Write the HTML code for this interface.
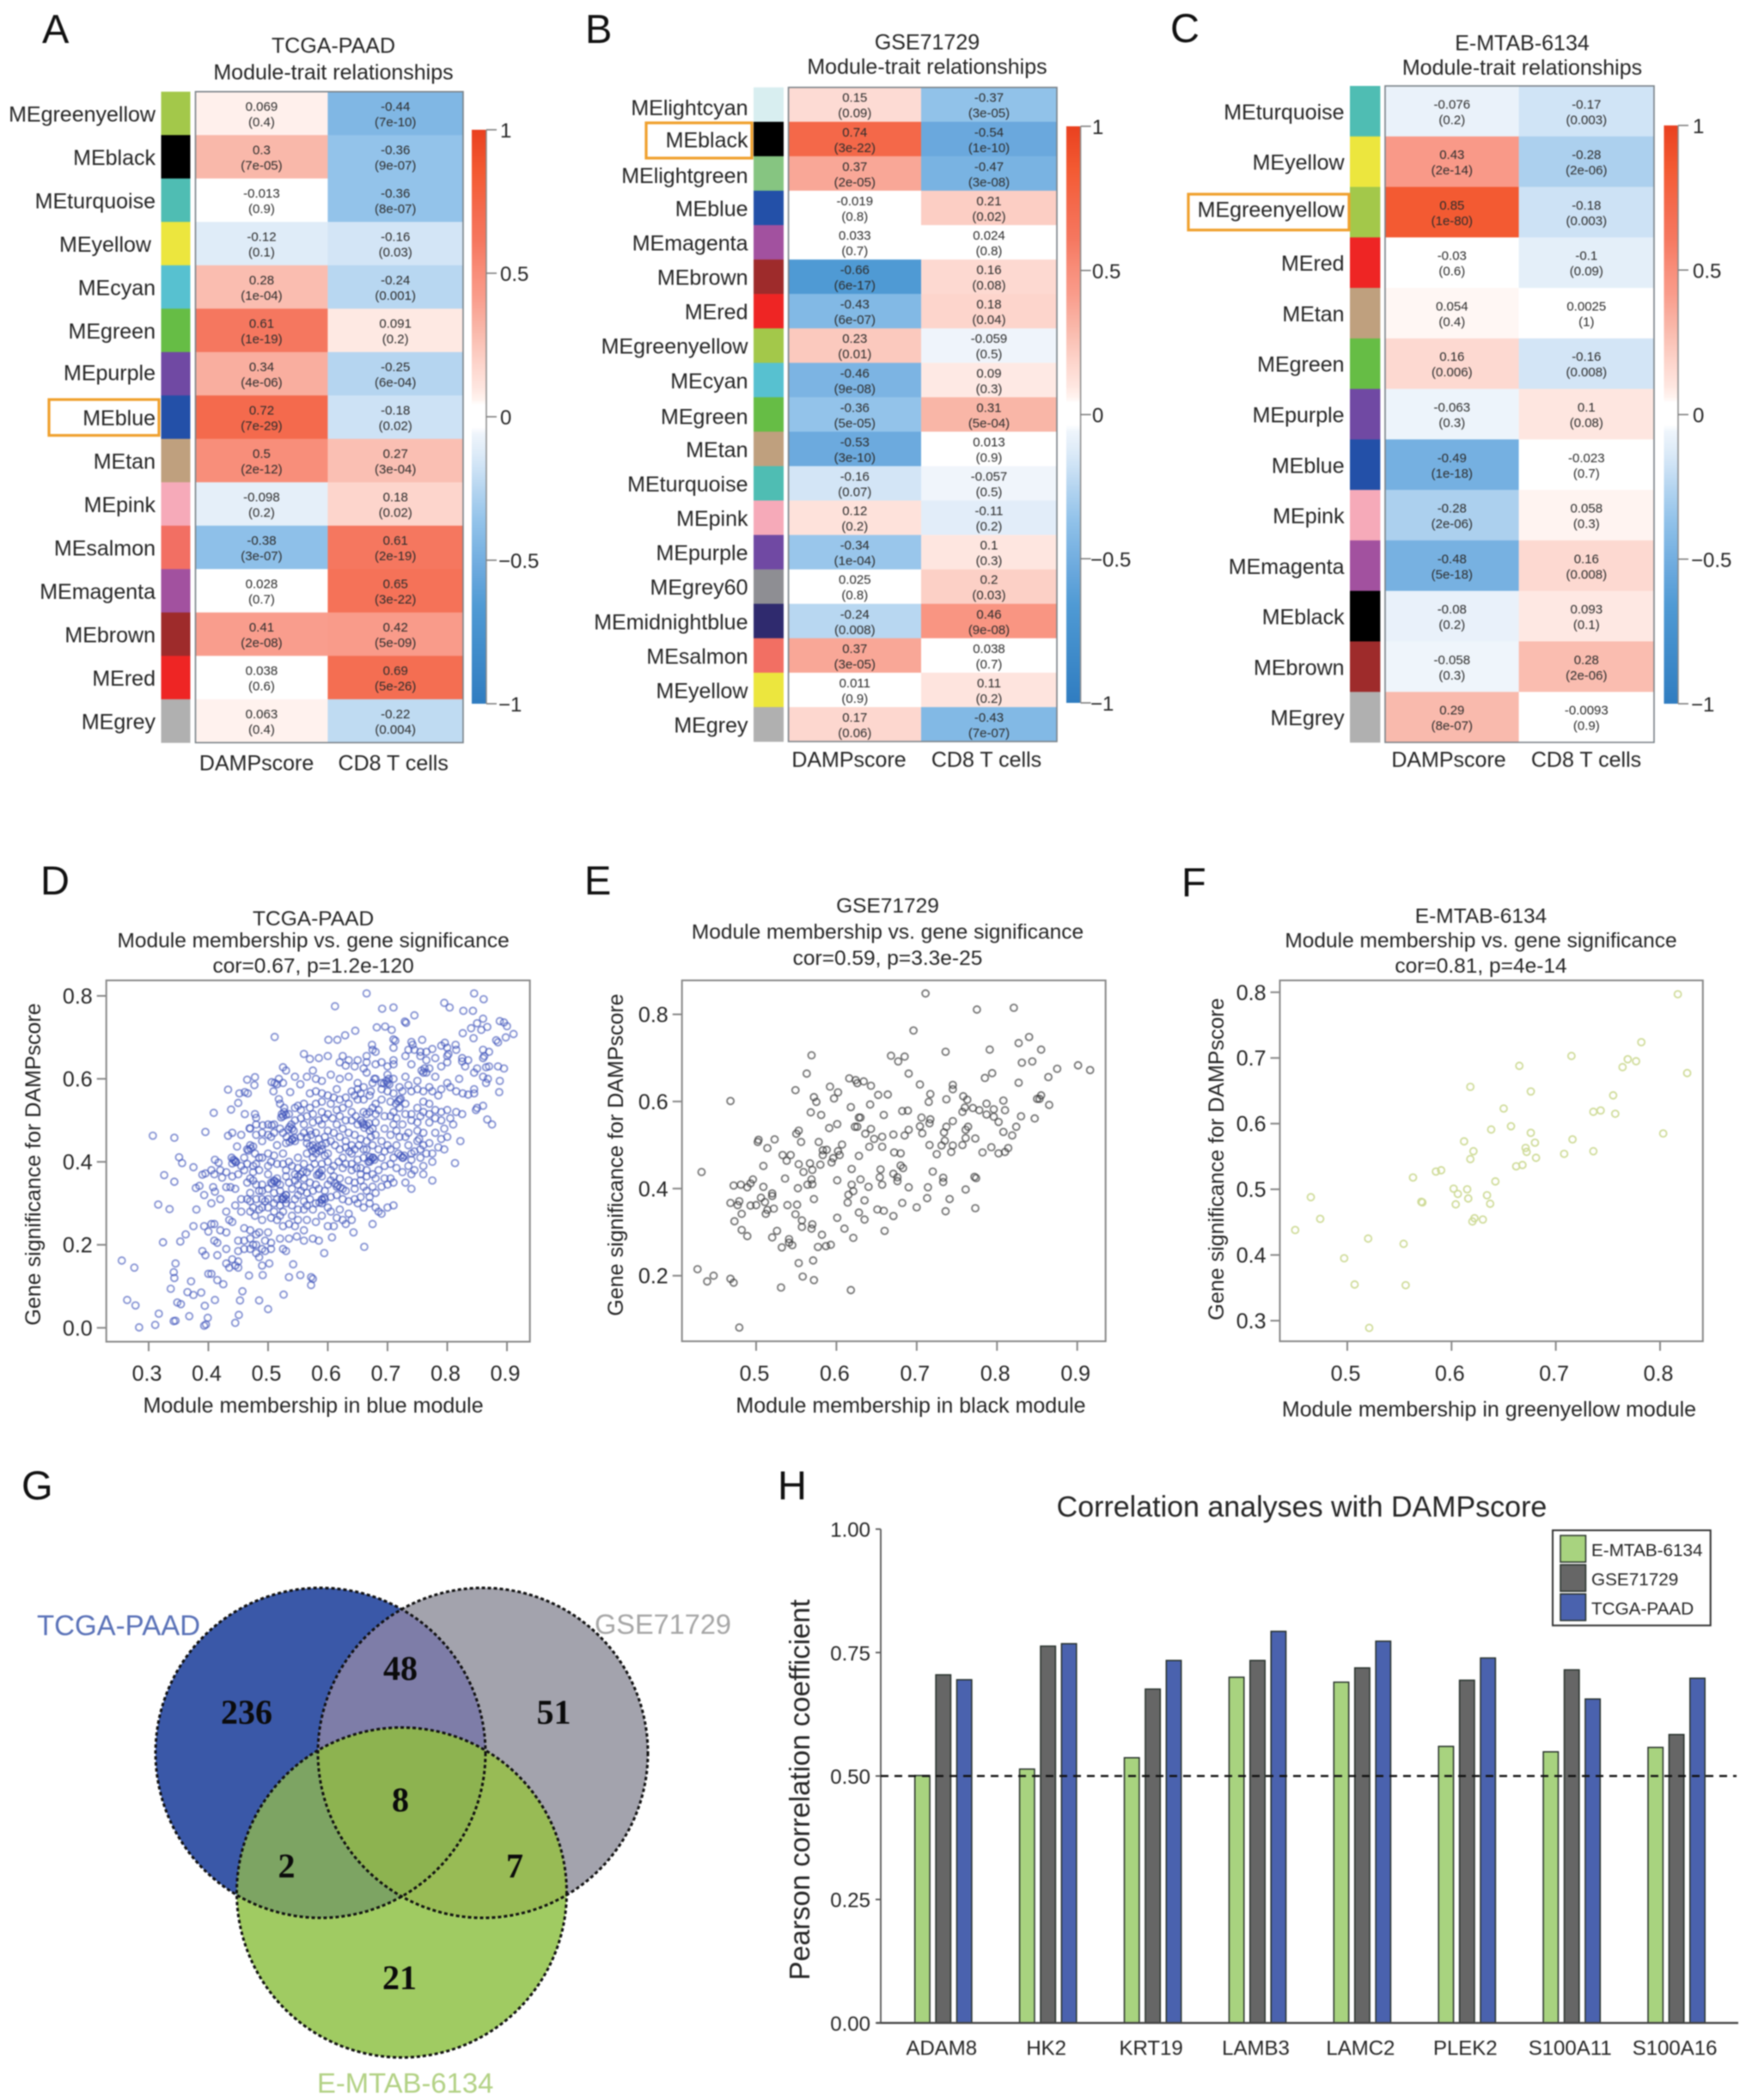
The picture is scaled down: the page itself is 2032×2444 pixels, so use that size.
<!DOCTYPE html>
<html lang="en">
<head>
<meta charset="utf-8">
<title>WGCNA module analysis figure</title>
<style>
html,body{margin:0;padding:0;background:#fff;}
svg{display:block;filter:blur(0.8px);}
text{font-family:"Liberation Sans",Arial,sans-serif;fill:#262626;}
.letter{font-size:47px;fill:#111;}
.t25{font-size:25px;text-anchor:middle;}
.t245{font-size:24.5px;text-anchor:middle;}
.venn-num{font-family:"Liberation Serif",serif;font-weight:bold;font-size:40px;text-anchor:middle;fill:#0b0b0b;}
</style>
</head>
<body>
<svg id="fig" xmlns="http://www.w3.org/2000/svg" width="2032" height="2444" viewBox="0 0 2032 2444">
<rect x="0" y="0" width="2032" height="2444" fill="#ffffff"/>
<defs>
<linearGradient id="cbGrad" x1="0" y1="0" x2="0" y2="1"></linearGradient>
<clipPath id="clipBlue"><circle cx="373" cy="2040" r="192"/></clipPath>
<clipPath id="clipGrey"><circle cx="562" cy="2040" r="192"/></clipPath>
<clipPath id="clipBlueGrey" clip-path="url(#clipBlue)"><circle cx="562" cy="2040" r="192"/></clipPath>
</defs>

<text class="letter" x="49" y="50">A</text>
<text class="letter" x="681" y="50">B</text>
<text class="letter" x="1362" y="49">C</text>
<text class="letter" x="47" y="1041">D</text>
<text class="letter" x="680" y="1041">E</text>
<text class="letter" x="1375" y="1043">F</text>
<text class="letter" x="25" y="1745">G</text>
<text class="letter" x="905" y="1745">H</text>

<g id="heatA">
<text class="t25" x="388" y="61.5">TCGA-PAAD</text>
<text class="t25" x="388" y="92.5">Module-trait relationships</text>
</g>
<g id="heatB">
<text class="t25" x="1079" y="57.5">GSE71729</text>
<text class="t25" x="1079" y="86">Module-trait relationships</text>
</g>
<g id="heatC">
<text class="t25" x="1771.5" y="58.5">E-MTAB-6134</text>
<text class="t25" x="1771.5" y="87">Module-trait relationships</text>
</g>

<g id="scatD">
<text class="t245" x="364.6" y="1077">TCGA-PAAD</text>
<text class="t245" x="364.6" y="1102.5">Module membership vs. gene significance</text>
<text class="t245" x="364.6" y="1132">cor=0.67, p=1.2e-120</text>
<text class="t25" x="364.6" y="1644">Module membership in blue module</text>
<text class="t25" transform="translate(47,1355) rotate(-90)">Gene significance for DAMPscore</text>
</g>
<g id="scatE">
<text class="t245" x="1033" y="1062">GSE71729</text>
<text class="t245" x="1033" y="1092.5">Module membership vs. gene significance</text>
<text class="t245" x="1033" y="1123">cor=0.59, p=3.3e-25</text>
<text class="t25" x="1060" y="1644">Module membership in black module</text>
<text class="t25" transform="translate(725,1344) rotate(-90)">Gene significance for DAMPscore</text>
</g>
<g id="scatF">
<text class="t245" x="1723.5" y="1074">E-MTAB-6134</text>
<text class="t245" x="1723.5" y="1102.5">Module membership vs. gene significance</text>
<text class="t245" x="1723.5" y="1132">cor=0.81, p=4e-14</text>
<text class="t25" x="1733" y="1648.5">Module membership in greenyellow module</text>
<text class="t25" transform="translate(1424,1349) rotate(-90)">Gene significance for DAMPscore</text>
</g>

<g>
<circle cx="373" cy="2040" r="192" fill="#3a58a8"/>
<circle cx="562" cy="2040" r="192" fill="#a3a3ad"/>
<circle cx="562" cy="2040" r="192" fill="#7e7da8" clip-path="url(#clipBlue)"/>
<circle cx="467.5" cy="2202.5" r="192" fill="#a0cb62"/>
<circle cx="467.5" cy="2202.5" r="192" fill="#7da463" clip-path="url(#clipBlue)"/>
<circle cx="467.5" cy="2202.5" r="192" fill="#98bb55" clip-path="url(#clipGrey)"/>
<circle cx="467.5" cy="2202.5" r="192" fill="#8db350" clip-path="url(#clipBlueGrey)"/>
<circle cx="373" cy="2040" r="192" fill="none" stroke="#111" stroke-width="3" stroke-dasharray="4 3"/>
<circle cx="562" cy="2040" r="192" fill="none" stroke="#111" stroke-width="3" stroke-dasharray="4 3"/>
<circle cx="467.5" cy="2202.5" r="192" fill="none" stroke="#111" stroke-width="3" stroke-dasharray="4 3"/>
<text class="venn-num" x="287" y="2006">236</text>
<text class="venn-num" x="466" y="1955">48</text>
<text class="venn-num" x="644.5" y="2006">51</text>
<text class="venn-num" x="466" y="2108">8</text>
<text class="venn-num" x="333.5" y="2185">2</text>
<text class="venn-num" x="599" y="2185">7</text>
<text class="venn-num" x="465" y="2315">21</text>
<text x="43" y="1903" font-size="33" style="fill:#5a72b8">TCGA-PAAD</text>
<text x="692" y="1901.5" font-size="32.5" style="fill:#a6a6a6">GSE71729</text>
<text x="369" y="2435.5" font-size="32.8" style="fill:#b2d184">E-MTAB-6134</text>
</g>

<g id="barH">
<text x="1515" y="1765" font-size="34" text-anchor="middle">Correlation analyses with DAMPscore</text>
<text transform="translate(942,2083) rotate(-90)" font-size="33" text-anchor="middle">Pearson correlation coefficient</text>
</g>
</svg>

<script>
/* ---------- Heatmap A data ---------- */
const aModules = ['greenyellow','black','turquoise','yellow','cyan','green','purple','blue','tan','pink','salmon','magenta','brown','red','grey'];
const aDampValues = ['0.069','0.3','-0.013','-0.12','0.28','0.61','0.34','0.72','0.5','-0.098','-0.38','0.028','0.41','0.038','0.063'];
const aDampP = ['0.4','7e-05','0.9','0.1','1e-04','1e-19','4e-06','7e-29','2e-12','0.2','3e-07','0.7','2e-08','0.6','0.4'];
const aCd8Values = ['-0.44','-0.36','-0.36','-0.16','-0.24','0.091','-0.25','-0.18','0.27','0.18','0.61','0.65','0.42','0.69','-0.22'];
const aCd8P = ['7e-10','9e-07','8e-07','0.03','0.001','0.2','6e-04','0.02','3e-04','0.02','2e-19','3e-22','5e-09','5e-26','0.004'];

/* ---------- Heatmap B data ---------- */
const bModules = ['lightcyan','black','lightgreen','blue','magenta','brown','red','greenyellow','cyan','green','tan','turquoise','pink','purple','grey60','midnightblue','salmon','yellow','grey'];
const bDampValues = ['0.15','0.74','0.37','-0.019','0.033','-0.66','-0.43','0.23','-0.46','-0.36','-0.53','-0.16','0.12','-0.34','0.025','-0.24','0.37','0.011','0.17'];
const bDampP = ['0.09','3e-22','2e-05','0.8','0.7','6e-17','6e-07','0.01','9e-08','5e-05','3e-10','0.07','0.2','1e-04','0.8','0.008','3e-05','0.9','0.06'];
const bCd8Values = ['-0.37','-0.54','-0.47','0.21','0.024','0.16','0.18','-0.059','0.09','0.31','0.013','-0.057','-0.11','0.1','0.2','0.46','0.038','0.11','-0.43'];
const bCd8P = ['3e-05','1e-10','3e-08','0.02','0.8','0.08','0.04','0.5','0.3','5e-04','0.9','0.5','0.2','0.3','0.03','9e-08','0.7','0.2','7e-07'];

/* ---------- Heatmap C data ---------- */
const cModules = ['turquoise','yellow','greenyellow','red','tan','green','purple','blue','pink','magenta','black','brown','grey'];
const cDampValues = ['-0.076','0.43','0.85','-0.03','0.054','0.16','-0.063','-0.49','-0.28','-0.48','-0.08','-0.058','0.29'];
const cDampP = ['0.2','2e-14','1e-80','0.6','0.4','0.006','0.3','1e-18','2e-06','5e-18','0.2','0.3','8e-07'];
const cCd8Values = ['-0.17','-0.28','-0.18','-0.1','0.0025','-0.16','0.1','-0.023','0.058','0.16','0.093','0.28','-0.0093'];
const cCd8P = ['0.003','2e-06','0.003','0.09','1','0.008','0.08','0.7','0.3','0.008','0.1','2e-06','0.9'];

const colorbarTicks = [1, 0.5, 0, -0.5, -1];
const heatTraits = ['DAMPscore', 'CD8 T cells'];

/* ---------- Scatter D data (module membership, gene significance) ---------- */
const pointsD = [
[.255,.162],[.276,.145],[.264,.067],[.278,.054],[.284,.001],[.311,.007],[.317,.034],[.307,.463],[.343,.458],[.395,.472],[.351,.411],[.356,.397],[.326,.368],[.343,.352],[.316,.297],[.335,.286],[.324,.206],[.353,.208],[.345,.155],[.342,.134],[.343,.12],[.337,.094],[.348,.061],[.354,.057],[.342,.016],[.345,.017],[.368,.028],[.365,.086],[.371,.112],[.375,.079],[.388,.085],[.394,.053],[.399,.024],[.393,.005],[.396,.008],[.411,.067],[.445,.012],[.451,.031],[.453,.066],[.457,.088],[.485,.066],[.5,.045],[.526,.08],[.468,.126],[.491,.127],[.502,.155],[.535,.122],[.554,.127],[.542,.153],[.572,.103],[.575,.118],[.572,.122],[.594,.18],[.661,.195],[.643,.23],[.607,.218],
[.665,.806],[.845,.806],[.861,.792],[.795,.783],[.804,.772],[.612,.775],[.691,.769],[.71,.772],[.827,.764],[.843,.764],[.745,.753],[.729,.738],[.731,.735],[.86,.745],[.85,.734],[.888,.739],[.895,.736],[.9,.727],[.911,.708],[.898,.7],[.867,.725],[.84,.722],[.857,.718],[.826,.71],[.844,.698],[.882,.693],[.885,.688],[.511,.701],[.682,.724],[.696,.726],[.707,.718],[.646,.716],[.629,.705],[.616,.694],[.601,.694],[.713,.692],[.71,.695],[.674,.682],[.74,.689],[.758,.694],[.796,.687],[.814,.682],
[.675,.67],[.68,.665],[.71,.675],[.745,.67],[.755,.665],[.765,.665],[.79,.68],[.80,.675],[.815,.67],[.735,.67],[.86,.67],[.87,.665],[.775,.672],[.742,.682],[.802,.66],
[.56,.66],[.57,.648],[.585,.65],[.6,.655],[.625,.655],[.635,.645],[.65,.645],[.665,.64],[.69,.64],[.71,.645],[.73,.655],[.755,.655],[.765,.645],[.78,.65],[.80,.655],[.825,.65],[.835,.645],[.86,.65],[.665,.655],[.862,.655],[.825,.642],
[.62,.64],[.63,.632],[.645,.63],[.66,.625],[.68,.635],[.7,.63],[.71,.635],[.74,.635],[.77,.625],[.79,.63],[.80,.64],[.83,.63],[.85,.625],[.865,.628],[.885,.63],[.895,.625],[.525,.628],[.53,.62],[.575,.62],[.757,.62],[.76,.615],[.762,.625],[.87,.63],
[.465,.598],[.478,.604],[.477,.585],[.511,.59],[.518,.6],[.525,.59],[.545,.605],[.565,.605],[.58,.6],[.59,.595],[.605,.61],[.62,.6],[.635,.605],[.65,.59],[.665,.615],[.68,.6],[.70,.61],[.71,.6],[.73,.605],[.75,.595],[.765,.615],[.78,.605],[.8,.59],[.82,.6],[.845,.615],[.86,.605],[.888,.595],[.506,.592],[.678,.6],[.7,.59],[.703,.587],[.868,.6],[.865,.59],
[.433,.574],[.452,.565],[.461,.568],[.466,.565],[.509,.57],[.515,.587],[.537,.568],[.554,.587],[.57,.565],[.58,.57],[.59,.565],[.6,.56],[.615,.575],[.63,.555],[.645,.56],[.655,.565],[.672,.57],[.69,.575],[.71,.565],[.725,.57],[.74,.57],[.775,.57],[.785,.56],[.815,.57],[.826,.565],[.835,.562],[.845,.565],[.887,.568],[.845,.575],
[.438,.526],[.45,.542],[.409,.518],[.461,.515],[.478,.515],[.48,.506],[.518,.551],[.52,.54],[.527,.53],[.55,.535],[.56,.54],[.555,.525],[.575,.515],[.59,.52],[.6,.515],[.615,.525],[.625,.53],[.635,.54],[.65,.55],[.66,.55],[.67,.56],[.68,.54],[.69,.55],[.705,.545],[.72,.55],[.73,.54],[.75,.53],[.76,.545],[.77,.54],[.78,.525],[.79,.52],[.8,.525],[.815,.52],[.825,.515],[.85,.53],[.86,.535],[.848,.525],[.867,.502],[.875,.49],[.665,.515],[.67,.52],[.68,.515],[.64,.52],[.71,.52],[.72,.53],[.522,.507],[.525,.51],[.53,.513],
[.469,.481],[.48,.49],[.491,.488],[.5,.49],[.506,.488],[.51,.49],[.525,.47],[.54,.48],[.543,.475],[.56,.49],[.57,.475],[.585,.5],[.59,.49],[.6,.475],[.625,.48],[.635,.47],[.65,.49],[.66,.49],[.67,.475],[.675,.48],[.68,.495],[.695,.48],[.71,.49],[.725,.49],[.74,.5],[.75,.495],[.77,.495],[.795,.48],[.81,.49],[.76,.47],[.448,.437],[.433,.463],[.44,.47],[.455,.465],[.47,.48],
[.49,.45],[.505,.46],[.515,.44],[.53,.445],[.54,.455],[.545,.45],[.565,.445],[.575,.44],[.585,.455],[.595,.46],[.62,.46],[.63,.45],[.64,.44],[.645,.465],[.655,.455],[.665,.43],[.675,.44],[.68,.465],[.69,.45],[.7,.44],[.72,.46],[.73,.46],[.75,.45],[.753,.455],[.77,.445],[.785,.435],[.795,.43],[.822,.45],[.478,.42],[.465,.43],[.47,.44],
[.411,.405],[.417,.398],[.44,.396],[.444,.403],[.446,.4],[.46,.41],[.475,.39],[.49,.41],[.5,.39],[.51,.415],[.525,.42],[.535,.4],[.55,.41],[.565,.42],[.575,.41],[.58,.42],[.59,.43],[.595,.415],[.6,.42],[.625,.41],[.64,.42],[.65,.405],[.66,.41],[.67,.4],[.675,.41],[.678,.405],[.69,.41],[.71,.41],[.725,.41],[.728,.415],[.74,.405],[.76,.39],[.775,.4],[.813,.397],
[.375,.387],[.39,.369],[.395,.372],[.423,.362],[.46,.38],[.475,.375],[.485,.38],[.5,.37],[.51,.355],[.515,.35],[.53,.38],[.53,.365],[.545,.37],[.56,.36],[.565,.375],[.585,.37],[.59,.365],[.605,.38],[.625,.385],[.64,.38],[.655,.385],[.665,.38],[.68,.36],[.695,.36],[.705,.36],[.71,.35],[.73,.35],[.74,.37],[.745,.38],[.76,.37],[.775,.355],[.74,.335],[.55,.345],
[.379,.337],[.385,.342],[.393,.32],[.408,.339],[.411,.328],[.43,.339],[.437,.339],[.445,.335],[.465,.35],[.475,.355],[.49,.345],[.505,.35],[.52,.345],[.54,.335],[.56,.34],[.57,.35],[.58,.345],[.595,.33],[.615,.34],[.625,.335],[.63,.33],[.645,.335],[.66,.34],[.675,.34],[.68,.325],[.405,.3],[.42,.31],[.455,.31],[.47,.325],[.485,.33],[.53,.32],[.55,.32],[.595,.31],[.57,.31],
[.38,.285],[.393,.245],[.405,.25],[.41,.25],[.4,.232],[.375,.245],[.362,.225],[.42,.235],[.43,.23],[.44,.255],[.435,.26],[.43,.28],[.445,.295],[.455,.28],[.465,.31],[.47,.305],[.475,.29],[.46,.24],[.47,.235],[.478,.27],[.49,.31],[.495,.305],[.5,.29],[.505,.265],[.515,.26],[.52,.27],[.525,.245],[.535,.25],[.49,.26],[.5,.23],[.485,.23],[.48,.225],[.47,.215],[.45,.21],[.46,.21],[.48,.2],[.495,.21],[.505,.205],[.52,.215],[.535,.215],[.548,.22],[.56,.21],[.575,.215],[.585,.21],[.545,.245],[.56,.235],[.53,.3],[.53,.31],[.525,.31],[.55,.285],[.56,.285],[.575,.285],[.59,.3],[.6,.29],[.59,.31],[.6,.245],[.61,.245],[.615,.265],[.625,.26],[.63,.25],[.64,.26],[.635,.275],[.65,.3],[.66,.29],[.67,.3],[.68,.29],[.7,.29],[.71,.295],[.685,.28],[.69,.275],[.675,.25],
[.39,.185],[.395,.175],[.41,.21],[.415,.205],[.43,.19],[.415,.175],[.43,.155],[.435,.145],[.44,.165],[.445,.15],[.45,.145],[.45,.16],[.475,.2],[.47,.19],[.48,.18],[.485,.17],[.49,.19],[.495,.185],[.505,.19],[.525,.19],[.53,.185],[.45,.185],[.46,.19],[.4,.13],[.405,.13],[.415,.115],[.425,.105],[.49,.15],
[.536,.484],[.534,.478],[.539,.49],[.54,.453],[.536,.448],[.544,.458],[.531,.46],[.578,.432],[.574,.427],[.583,.436],[.57,.438],[.586,.426],[.442,.405],[.439,.41],[.446,.399],[.526,.315],[.523,.31],[.53,.32],[.672,.405],[.668,.4],[.676,.41],[.67,.412],[.665,.488],[.661,.482],[.669,.493],[.658,.494],[.722,.415],[.718,.42],[.726,.41],[.554,.37],[.55,.365],[.558,.376],[.586,.374],[.582,.368],[.59,.38],[.617,.343],[.612,.348],[.621,.338],[.59,.308],[.586,.302],[.594,.314],[.511,.353],[.507,.347],[.515,.36],[.471,.432],[.467,.427],[.475,.437],[.523,.515],[.527,.52],[.698,.595],[.694,.589],[.702,.6],[.718,.546],[.714,.54],[.722,.552],
[.555,.46],[.56,.47],[.565,.458],[.572,.465],[.58,.47],[.59,.44],[.597,.445],[.605,.45],[.612,.44],[.62,.43],[.63,.435],[.636,.425],[.645,.43],[.652,.44],[.66,.43],[.665,.45],[.672,.46],[.685,.43],[.695,.425],[.705,.43],[.715,.44],[.705,.465],[.715,.475],[.735,.47],[.735,.44],[.745,.425],[.755,.43],[.765,.42],[.61,.47],[.615,.49],[.608,.505],[.62,.51],[.63,.5],[.64,.5],[.647,.51],[.655,.5],[.66,.52],[.675,.53],[.685,.525],[.695,.51],[.705,.51],[.715,.505],[.73,.515],[.74,.515],[.755,.51],[.76,.52],[.77,.515],[.78,.505],[.79,.5],[.805,.505],
[.5,.42],[.505,.4],[.515,.395],[.525,.395],[.54,.39],[.55,.385],[.56,.395],[.57,.385],[.578,.395],[.59,.395],[.6,.4],[.61,.39],[.618,.4],[.63,.395],[.64,.395],[.648,.385],[.655,.37],[.665,.365],[.675,.37],[.685,.38],[.695,.39],[.705,.395],[.715,.385],[.725,.375],[.735,.39],[.48,.395],[.485,.41],[.465,.395],[.455,.39],[.45,.37],[.44,.365],[.43,.375],[.42,.38],[.41,.37],[.405,.38],
[.47,.36],[.48,.345],[.49,.33],[.5,.335],[.51,.325],[.52,.33],[.535,.35],[.545,.355],[.555,.33],[.565,.325],[.575,.33],[.585,.335],[.6,.345],[.605,.355],[.61,.365],[.62,.36],[.635,.355],[.645,.35],[.655,.355],[.665,.33],[.69,.34],[.7,.345],[.5,.31],[.51,.3],[.515,.31],[.52,.295],[.54,.295],[.545,.31],[.56,.305],[.565,.295],[.58,.3],[.605,.315],[.615,.32],[.625,.31],[.635,.305],[.645,.31],[.655,.315],[.67,.315],[.48,.31],[.47,.28],[.485,.285],[.49,.29],[.51,.28],[.525,.28],[.54,.27],[.55,.26],[.565,.26],[.58,.255],[.59,.27],[.605,.28],[.62,.285],
[.545,.5],[.555,.505],[.565,.51],[.575,.495],[.595,.505],[.535,.515],[.545,.53],[.57,.53],[.58,.54],[.59,.545],[.605,.54],[.61,.555],[.62,.55],[.64,.57],[.65,.575],[.66,.58],[.675,.59],[.69,.59],[.7,.57],[.72,.58],[.735,.585],[.75,.575],[.76,.57],[.77,.58],[.79,.575],[.805,.58],[.52,.48],[.51,.47],[.5,.465],[.49,.47],[.48,.465],[.75,.475],[.78,.47],[.8,.46],[.79,.455],[.76,.44],[.775,.42],[.755,.41],[.74,.42]
];
const dXTicks = [0.3,0.4,0.5,0.6,0.7,0.8,0.9];
const dYTicks = ['0.0','0.2','0.4','0.6','0.8'];

/* ---------- Scatter E data ---------- */
const pointsE = [
[.711,.848],[.775,.811],[.821,.815],[.696,.763],[.840,.748],[.827,.734],[.855,.719],[.791,.719],[.736,.714],[.569,.706],[.668,.705],[.685,.703],[.677,.692],[.844,.692],[.831,.689],[.901,.683],[.916,.672],[.875,.675],[.864,.656],[.563,.664],[.690,.664],[.794,.665],[.785,.654],[.616,.653],[.624,.649],[.626,.642],[.634,.646],[.643,.636],[.827,.643],[.704,.639],[.745,.638],[.745,.628],[.549,.626],[.592,.634],[.602,.621],[.597,.607],[.572,.610],[.575,.599],[.652,.615],[.664,.616],[.717,.617],[.715,.599],[.737,.605],[.758,.612],[.763,.604],[.855,.614],[.850,.606],[.853,.606],[.642,.593],[.468,.601],[.787,.595],[.796,.582],[.808,.602],[.865,.592],[.618,.587],[.568,.575],[.581,.569],[.659,.569],[.682,.578],[.689,.579],[.757,.576],[.760,.586],[.770,.585],[.778,.580],[.787,.570],[.796,.565],[.810,.580],[.830,.566],[.847,.561],[.628,.563],[.630,.563],[.706,.563],[.717,.559],[.716,.550],[.745,.555],[.802,.553],[.601,.548],[.623,.542],[.626,.542],[.704,.543],[.591,.539],[.737,.542],[.764,.542],[.643,.537],[.690,.535],[.824,.542],[.553,.533],[.707,.527],[.734,.529],[.761,.535],[.808,.530],[.819,.522],[.550,.526],[.636,.526],[.671,.524],[.685,.522],[.647,.514],[.657,.519],[.523,.513],[.502,.507],[.503,.512],[.556,.507],[.578,.507],[.773,.515],[.735,.510],[.761,.516],[.607,.501],[.716,.500],[.731,.499],[.745,.499],[.757,.500],[.641,.496],[.657,.496],[.514,.493],[.793,.495],[.814,.493],[.782,.483],[.802,.481],[.810,.484],[.725,.479],[.743,.484],[.583,.488],[.588,.489],[.602,.486],[.672,.483],[.680,.481],[.533,.477],[.543,.477],[.583,.477],[.604,.477],[.628,.475],[.596,.470],[.538,.464],[.594,.460],[.553,.456],[.567,.458],[.580,.455],[.680,.453],[.509,.452],[.619,.445],[.655,.444],[.683,.447],[.570,.443],[.559,.438],[.720,.439],[.432,.438],[.671,.434],[.654,.426],[.772,.427],[.774,.424],[.676,.426],[.733,.425],[.536,.423],[.569,.421],[.496,.421],[.630,.421],[.601,.419],[.676,.417],[.733,.415],[.493,.412],[.481,.409],[.472,.407],[.489,.403],[.509,.404],[.564,.409],[.570,.410],[.619,.409],[.657,.409],[.640,.404],[.690,.403],[.714,.403],[.552,.401],[.761,.398],[.520,.389],[.621,.394],[.615,.386],[.520,.383],[.506,.379],[.572,.376],[.713,.378],[.741,.376],[.635,.373],[.479,.371],[.468,.367],[.511,.369],[.614,.368],[.682,.367],[.493,.361],[.500,.362],[.477,.362],[.539,.362],[.551,.363],[.700,.357],[.773,.355],[.651,.352],[.522,.354],[.514,.351],[.659,.349],[.736,.348],[.512,.342],[.482,.342],[.549,.341],[.628,.345],[.671,.337],[.601,.333],[.635,.329],[.473,.325],[.557,.327],[.570,.318],[.557,.312],[.569,.308],[.610,.308],[.482,.305],[.526,.303],[.660,.303],[.582,.294],[.489,.291],[.520,.288],[.621,.287],[.541,.284],[.541,.276],[.545,.270],[.532,.265],[.577,.266],[.587,.268],[.593,.271],[.571,.235],[.553,.229],[.427,.215],[.447,.200],[.468,.193],[.439,.187],[.472,.184],[.558,.198],[.572,.190],[.531,.173],[.618,.167],[.479,.081]
];
const eXTicks = [0.5,0.6,0.7,0.8,0.9];
const eYTicks = [0.2,0.4,0.6,0.8];

/* ---------- Scatter F data ---------- */
const pointsF = [
[.817,.797],[.782,.724],[.715,.703],[.769,.698],[.777,.695],[.764,.686],[.665,.688],[.826,.677],[.618,.656],[.676,.649],[.755,.643],[.650,.623],[.736,.618],[.743,.620],[.757,.615],[.657,.596],[.638,.591],[.676,.586],[.803,.585],[.612,.573],[.716,.576],[.680,.571],[.621,.558],[.671,.563],[.672,.557],[.736,.558],[.708,.554],[.681,.548],[.618,.546],[.662,.535],[.668,.537],[.563,.518],[.585,.527],[.590,.529],[.642,.512],[.602,.501],[.615,.500],[.606,.493],[.634,.491],[.616,.486],[.465,.488],[.571,.481],[.572,.480],[.604,.477],[.637,.478],[.474,.455],[.620,.451],[.622,.456],[.630,.454],[.450,.438],[.520,.425],[.554,.417],[.497,.395],[.507,.355],[.556,.354],[.521,.289]
];
const fXTicks = [0.5,0.6,0.7,0.8];
const fYTicks = [0.3,0.4,0.5,0.6,0.7,0.8];

/* ---------- Bar chart H data ---------- */
const barGenes = ['ADAM8','HK2','KRT19','LAMB3','LAMC2','PLEK2','S100A11','S100A16'];
const barSeriesNames = ['E-MTAB-6134','GSE71729','TCGA-PAAD'];
const emtabValues = [0.501,0.514,0.537,0.700,0.690,0.560,0.549,0.558];
const gseValues = [0.705,0.763,0.676,0.734,0.719,0.694,0.715,0.584];
const tcgaValues = [0.695,0.768,0.734,0.793,0.773,0.739,0.656,0.698];
const barYTicks = ['0.00','0.25','0.50','0.75','1.00'];
const barThreshold = [0.5];

/* ---------- Style lookups ---------- */
const moduleColors = {greenyellow:'#a3c84a',black:'#000000',turquoise:'#4fbdb3',yellow:'#ece63e',cyan:'#57c1d0',green:'#66bd45',purple:'#7049a3',blue:'#2350a8',tan:'#bfa07e',pink:'#f6aab9',salmon:'#f26f63',magenta:'#a2519f',brown:'#9e2b2b',red:'#ee2524',grey:'#b0b0b0',lightcyan:'#d8eef0',lightgreen:'#86c581',grey60:'#8e8e93',midnightblue:'#2f2a6e'};
const colorStops = [[-1,'#2f7cc0'],[-0.66,'#4f9ad4'],[-0.54,'#6aa8dd'],[-0.44,'#80b7e4'],[-0.36,'#93c3ea'],[-0.25,'#b5d5f0'],[-0.18,'#cde2f5'],[-0.12,'#dfecf8'],[-0.06,'#eef4fb'],[-0.035,'#ffffff'],[0.04,'#ffffff'],[0.06,'#fff3ef'],[0.1,'#fee6e0'],[0.18,'#fdd5cc'],[0.3,'#f9b8aa'],[0.42,'#f99b8a'],[0.5,'#f88e7a'],[0.61,'#f5775f'],[0.72,'#f46a4d'],[0.85,'#f35a32'],[1,'#e9401f']];

const NS = 'http://www.w3.org/2000/svg';
function mk(tag, attrs, parent, content) {
  const el = document.createElementNS(NS, tag);
  for (const k in attrs) el.setAttribute(k, attrs[k]);
  if (content !== undefined) el.textContent = content;
  parent.appendChild(el);
  return el;
}
function hexToRgb(h) {
  return [parseInt(h.slice(1,3),16), parseInt(h.slice(3,5),16), parseInt(h.slice(5,7),16)];
}
function heatColor(v) {
  if (v <= colorStops[0][0]) return colorStops[0][1];
  for (let i = 1; i < colorStops.length; i++) {
    if (v <= colorStops[i][0]) {
      const a = colorStops[i-1], b = colorStops[i];
      const t = (v - a[0]) / (b[0] - a[0]);
      const ca = hexToRgb(a[1]), cb = hexToRgb(b[1]);
      return 'rgb(' + ca.map(function (c, j) { return Math.round(c + (cb[j] - c) * t); }).join(',') + ')';
    }
  }
  return colorStops[colorStops.length - 1][1];
}
function linear(d0, r0, d1, r1) {
  return function (v) { return r0 + (v - d0) * (r1 - r0) / (d1 - d0); };
}

/* colourbar gradient */
const grad = document.getElementById('cbGrad');
for (let i = colorStops.length - 1; i >= 0; i--) {
  mk('stop', {offset: ((1 - colorStops[i][0]) / 2 * 100) + '%', 'stop-color': colorStops[i][1]}, grad);
}

function drawHeatmap(g, prefix, modules, dampV, dampP, cd8V, cd8P, L) {
  const rows = modules.length;
  const rowY = linear(0, L.y0, rows, L.y1);
  const colX = [L.x0, L.xm, L.x1];
  const traitVals = [dampV, cd8V];
  const traitPs = [dampP, cd8P];
  const cbY = linear(1, L.cbTop, -1, L.cbBottom);
  modules.forEach(function (m, r) {
    const y = rowY(r), h = rowY(r + 1) - y, cy = y + h / 2;
    const strip = mk('rect', {x: L.sx0, y: y, width: L.sx1 - L.sx0, height: h + 0.3, fill: moduleColors[m]}, g);
    
    
    const nudge = L.labelNudge[m] || [0, 0];
    const lab = mk('text', {x: L.labelRight + nudge[0], y: cy + 9.5 + nudge[1], 'font-size': 25, 'text-anchor': 'end'}, g, 'ME' + m);
    
    
    for (let c = 0; c < 2; c++) {
      const cell = mk('rect', {x: colX[c], y: y, width: colX[c+1] - colX[c] + 0.3, height: h + 0.3, fill: heatColor(parseFloat(traitVals[c][r]))}, g);
      
      
      const cx = (colX[c] + colX[c+1]) / 2;
      const t1 = mk('text', {x: cx, y: cy - 3, 'font-size': 15, 'text-anchor': 'middle', style: 'fill:#2c2c2c'}, g, traitVals[c][r]);
      
      
      const t2 = mk('text', {x: cx, y: cy + 15, 'font-size': 15, 'text-anchor': 'middle', style: 'fill:#2c2c2c'}, g, '(' + traitPs[c][r] + ')');
      
      
    }
  });
  const box = mk('rect', {x: L.x0, y: L.y0, width: L.x1 - L.x0, height: L.y1 - L.y0, fill: 'none', stroke: '#7a8288', 'stroke-width': 1.6}, g);
  
  
  const cb = mk('rect', {x: L.cbX0, y: L.cbTop, width: L.cbX1 - L.cbX0, height: L.cbBottom - L.cbTop, fill: 'url(#cbGrad)'}, g);
  
  
  const cbl = mk('line', {x1: L.cbX1, x2: L.cbX1, y1: L.cbTop, y2: L.cbBottom, stroke: '#8a8a8a', 'stroke-width': 1.5}, g);
  
  
  colorbarTicks.forEach(function (t) {
    const tick = mk('line', {x1: L.cbX1, x2: L.cbX1 + 12, y1: cbY(t), y2: cbY(t), stroke: '#777', 'stroke-width': 1.5}, g);
    
    
    const tl = mk('text', {x: L.cbLabelX + (t < 0 ? -2 : 0), y: cbY(t) + 9, 'font-size': 24}, g, String(t).replace('-', '\u2212'));
    
    
  });
  heatTraits.forEach(function (name, i) {
    const tt = mk('text', {x: L.traitX[i], y: L.traitY, 'font-size': 25, 'text-anchor': 'middle'}, g, name);
    
    
  });
  const hl = mk('rect', {x: L.hl[0], y: L.hl[1], width: L.hl[2] - L.hl[0], height: L.hl[3] - L.hl[1], fill: 'none', stroke: '#f0a02e', 'stroke-width': 3.2}, g);
  
  
}

drawHeatmap(document.getElementById('heatA'), 'heatmap-a', aModules, aDampValues, aDampP, aCd8Values, aCd8P,
  {x0:227.5,xm:381.4,x1:539,y0:106.7,y1:864.3,sx0:187.5,sx1:221.5,labelRight:181,labelNudge:{yellow:[-5,0],purple:[0,-2]},cbX0:549,cbX1:566,cbTop:151,cbBottom:819,cbLabelX:582,traitX:[298.6,457.7],traitY:896.5,hl:[57,465,185,506.7]});
drawHeatmap(document.getElementById('heatB'), 'heatmap-b', bModules, bDampValues, bDampP, bCd8Values, bCd8P,
  {x0:917.6,xm:1072,x1:1230,y0:101.7,y1:863,sx0:877,sx1:912,labelRight:870.5,labelNudge:{lightcyan:[0,3],lightgreen:[0,1.5],green:[0,1.5],grey:[0,0]},cbX0:1241,cbX1:1257.6,cbTop:147,cbBottom:818,cbLabelX:1271,traitX:[988,1148],traitY:892.5,hl:[752,143,875,184]});
drawHeatmap(document.getElementById('heatC'), 'heatmap-c', cModules, cDampValues, cDampP, cCd8Values, cCd8P,
  {x0:1612,xm:1767.6,x1:1925,y0:100,y1:864,sx0:1571,sx1:1606.4,labelRight:1564.6,labelNudge:{greenyellow:[0,-4]},cbX0:1936.5,cbX1:1953,cbTop:146,cbBottom:819,cbLabelX:1970,traitX:[1686,1846],traitY:892.5,hl:[1383,226,1570,267.7]});

function drawScatter(g, prefix, points, xTicks, yTicks, L) {
  const sx = linear(L.xd[0], L.xr[0], L.xd[1], L.xr[1]);
  const sy = linear(L.yd[0], L.yr[0], L.yd[1], L.yr[1]);
  const frame = mk('rect', {x: L.left, y: L.top, width: L.right - L.left, height: L.bottom - L.top, fill: 'none', stroke: '#888', 'stroke-width': 2}, g);
  
  
  xTicks.forEach(function (t) {
    const v = parseFloat(t);
    const tick = mk('line', {x1: sx(v), x2: sx(v), y1: L.bottom, y2: L.bottom + 11, stroke: '#888', 'stroke-width': 2}, g);
    
    
    const lab = mk('text', {x: sx(v) - 2, y: 1607, 'font-size': 25, 'text-anchor': 'middle'}, g, String(t));
    
    
  });
  yTicks.forEach(function (t) {
    const v = parseFloat(t);
    const tick = mk('line', {x1: L.left - 11, x2: L.left, y1: sy(v), y2: sy(v), stroke: '#888', 'stroke-width': 2}, g);
    
    
    const lab = mk('text', {x: L.left - 16, y: sy(v) + 9, 'font-size': 25, 'text-anchor': 'end'}, g, String(t));
    
    
  });
  points.forEach(function (p) {
    const c = mk('circle', {cx: sx(p[0]), cy: sy(p[1]), r: 4, fill: 'none', stroke: L.color, 'stroke-width': 1.8}, g);
    
    
  });
}

drawScatter(document.getElementById('scatD'), 'scatter-d', pointsD, dXTicks, dYTicks,
  {left:123.7,right:616.7,top:1141,bottom:1561.5,xd:[0.3,0.9],xr:[173,590],yd:[0,0.8],yr:[1545.3,1159],color:'rgba(62,82,186,0.62)'});
drawScatter(document.getElementById('scatE'), 'scatter-e', pointsE, eXTicks, eYTicks,
  {left:793.7,right:1286.7,top:1141,bottom:1561,xd:[0.5,0.9],xr:[880,1253.7],yd:[0.2,0.8],yr:[1484.7,1180.5],color:'rgba(50,50,50,0.66)'});
drawScatter(document.getElementById('scatF'), 'scatter-f', pointsF, fXTicks, fYTicks,
  {left:1489.5,right:1981.8,top:1141,bottom:1561,xd:[0.5,0.8],xr:[1568,1932],yd:[0.3,0.8],yr:[1537,1154.8],color:'rgba(205,218,150,0.95)'});

/* bar chart */
(function () {
  const g = document.getElementById('barH');
  const sy = linear(0, 2354.3, 1, 1779.6);
  const barW = 17.4, step = 24.4, groupStep = 121.9, firstX = 1064.7;
  const series = [emtabValues, gseValues, tcgaValues];
  const fills = ['#a8d37f', '#666666', '#4a62ae'];
  barGenes.forEach(function (gene, i) {
    series.forEach(function (vals, s) {
      const x = firstX + i * groupStep + s * step;
      const b = mk('rect', {x: x, y: sy(vals[i]), width: barW, height: sy(0) - sy(vals[i]), fill: fills[s], stroke: '#26302a', 'stroke-width': 1.5}, g);
      
      
    });
    const lab = mk('text', {x: firstX + i * groupStep + step + barW / 2 - 2, y: 2391.5, 'font-size': 24, 'text-anchor': 'middle'}, g, gene);
    
    
  });
  const yAxis = mk('line', {x1: 1025, x2: 1025, y1: sy(1), y2: sy(0), stroke: '#555', 'stroke-width': 1.8}, g);
  
  
  const xAxis = mk('line', {x1: 1020, x2: 2023, y1: sy(0), y2: sy(0), stroke: '#444', 'stroke-width': 2.4}, g);
  
  
  barYTicks.forEach(function (t) {
    const v = parseFloat(t);
    const tick = mk('line', {x1: 1019, x2: 1025, y1: sy(v), y2: sy(v), stroke: '#555', 'stroke-width': 1.8}, g);
    
    
    const lab = mk('text', {x: 1013, y: sy(v) + 9, 'font-size': 24, 'text-anchor': 'end'}, g, t);
    
    
  });
  barThreshold.forEach(function (v) {
    const d = mk('line', {x1: 1025, x2: 2021, y1: sy(v), y2: sy(v), stroke: '#111', 'stroke-width': 2.4, 'stroke-dasharray': '9 7'}, g);
    
    
  });
  const lg = mk('rect', {x: 1807, y: 1781, width: 183.7, height: 110.7, fill: '#fff', stroke: '#333', 'stroke-width': 2}, g);
  
  
  barSeriesNames.forEach(function (name, s) {
    const swY = 1787 + s * 34;
    const sw = mk('rect', {x: 1816, y: swY, width: 29.5, height: 31, fill: fills[s], stroke: '#26302a', 'stroke-width': 1.5}, g);
    
    
    const lt = mk('text', {x: 1852, y: swY + 24, 'font-size': 20.7}, g, name);
    
    
  });
})();
</script>
</body>
</html>
